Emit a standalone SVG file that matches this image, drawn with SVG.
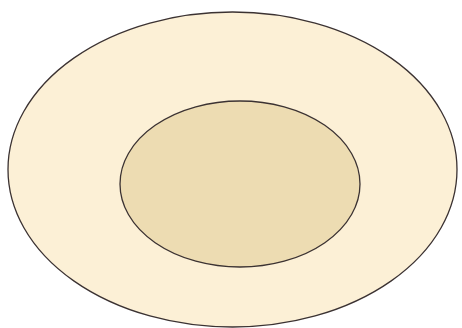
<svg xmlns="http://www.w3.org/2000/svg" width="462" height="328" viewBox="0 0 462 328">
<style>.e{stroke:#3b3232;stroke-width:1.3}</style>
<rect width="462" height="328" fill="#ffffff"/>
<g id="outer"><ellipse class="e" cx="232.5" cy="169.5" rx="224.5" ry="157.5" fill="#fcf0d6"/></g>
<g id="inner"><ellipse class="e" cx="240" cy="184" rx="120" ry="83" fill="#eddcb2"/></g>
<g id="connectors"/>
</svg>
